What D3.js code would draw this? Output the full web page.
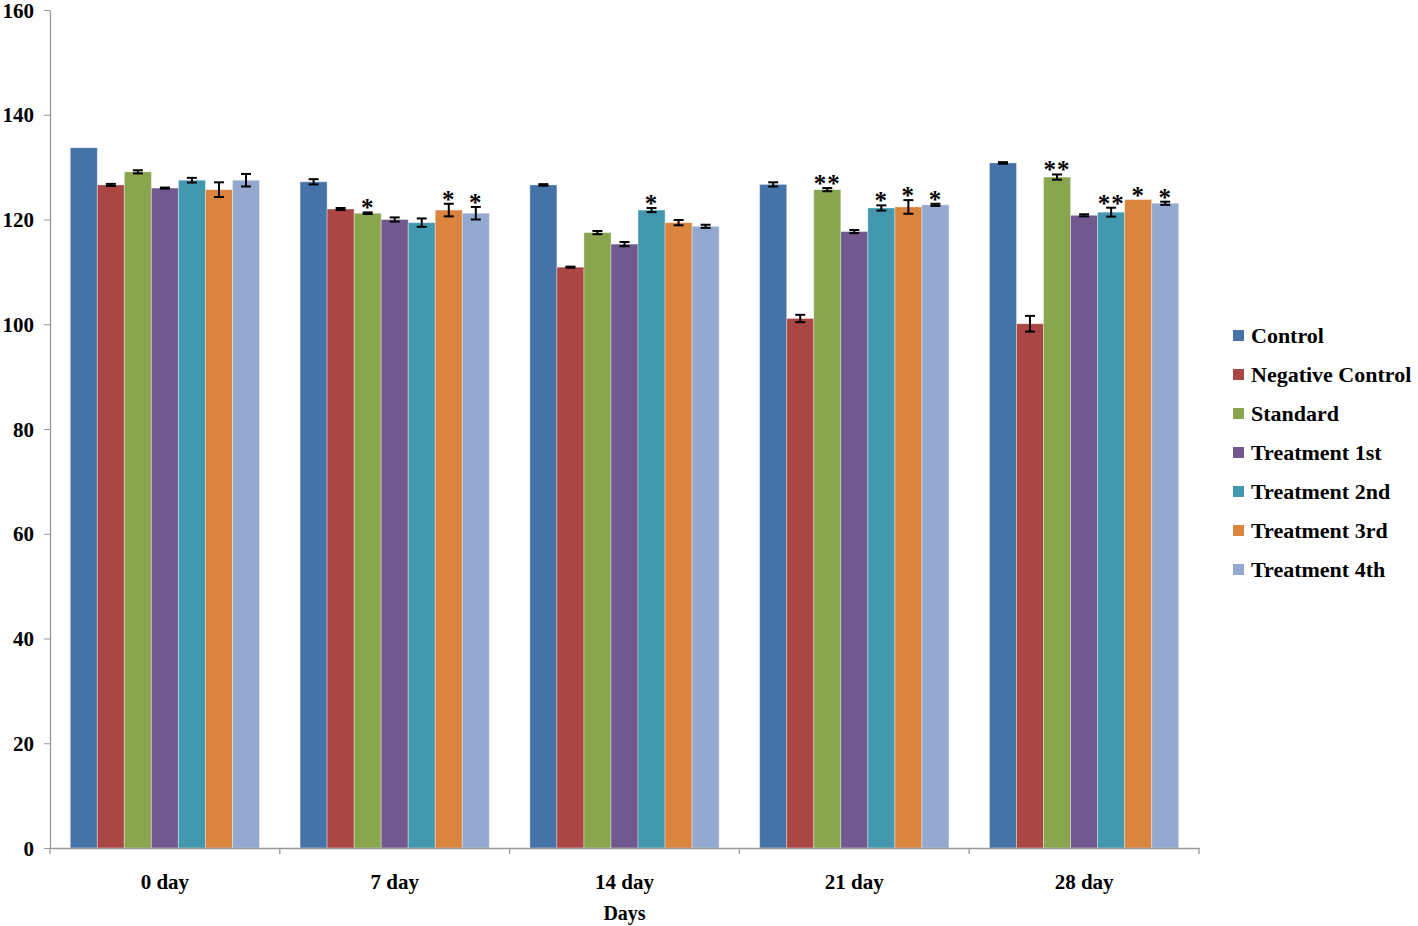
<!DOCTYPE html>
<html>
<head>
<meta charset="utf-8">
<script src="https://cdn.jsdelivr.net/npm/d3@7/dist/d3.min.js"></script>
<style>
  body { margin: 0; background: #fff; }
  svg text { font-family: "Liberation Serif", "Times New Roman", serif; font-weight: bold; fill: #000; }
</style>
</head>
<body>
<div id="chart"></div>
<script>
// groups on the x axis
const days = ['0 day', '7 day', '14 day', '21 day', '28 day'];
const seriesNames = ['Control', 'Negative Control', 'Standard', 'Treatment 1st', 'Treatment 2nd', 'Treatment 3rd', 'Treatment 4th'];
const seriesColors = ['#4572A7', '#AA4643', '#89A54E', '#71588F', '#4198AF', '#DB843D', '#93A9CF'];

// mean values, one row per series, one column per day
const control     = [133.7, 127.2, 126.6, 126.7, 130.8];
const negControl  = [126.6, 122.0, 110.9, 101.1, 100.1];
const standard    = [129.1, 121.2, 117.5, 125.7, 128.1];
const treatment1  = [126.0, 120.0, 115.3, 117.7, 120.8];
const treatment2  = [127.5, 119.4, 121.8, 122.2, 121.4];
const treatment3  = [125.7, 121.8, 119.4, 122.4, 123.8];
const treatment4  = [127.5, 121.2, 118.7, 122.8, 123.1];

// error bar half-widths
const controlErr    = [0, 0.5, 0.15, 0.4, 0.15];
const negControlErr = [0.2, 0.2, 0.1, 0.7, 1.5];
const standardErr   = [0.3, 0.15, 0.3, 0.3, 0.5];
const treatment1Err = [0.1, 0.4, 0.4, 0.3, 0.2];
const treatment2Err = [0.45, 0.8, 0.4, 0.5, 0.85];
const treatment3Err = [1.4, 1.2, 0.5, 1.3, 0];
const treatment4Err = [1.2, 1.2, 0.3, 0.2, 0.3];

// significance marks
const controlSig    = ['', '', '', '', ''];
const negControlSig = ['', '', '', '', ''];
const standardSig   = ['', '*', '', '**', '**'];
const treatment1Sig = ['', '', '', '', ''];
const treatment2Sig = ['', '', '*', '*', '**'];
const treatment3Sig = ['', '*', '', '*', '*'];
const treatment4Sig = ['', '*', '', '*', '*'];

const yTicks = [0, 20, 40, 60, 80, 100, 120, 140, 160];

const values = [control, negControl, standard, treatment1, treatment2, treatment3, treatment4];
const errors = [controlErr, negControlErr, standardErr, treatment1Err, treatment2Err, treatment3Err, treatment4Err];
const sigs = [controlSig, negControlSig, standardSig, treatment1Sig, treatment2Sig, treatment3Sig, treatment4Sig];

const width = 1418, height = 926;
const margin = { left: 50, top: 10, right: 219, bottom: 78 };

const svg = d3.select('#chart').append('svg')
  .attr('width', width)
  .attr('height', height);

const x0 = d3.scaleBand()
  .domain(days)
  .range([margin.left, width - margin.right])
  .paddingInner(0)
  .paddingOuter(0);

const x1 = d3.scaleBand()
  .domain(seriesNames)
  .range([0, x0.bandwidth()])
  .paddingInner(0)
  .paddingOuter(0.75);

const y = d3.scaleLinear()
  .domain([0, 160])
  .range([height - margin.bottom, margin.top]);

// rows for drawing
const rows = [];
days.forEach((day, di) => {
  seriesNames.forEach((name, si) => {
    rows.push({ day, name, si, v: values[si][di], e: errors[si][di], sig: sigs[si][di] });
  });
});

// bars
svg.append('g').selectAll('rect')
  .data(rows)
  .enter()
  .append('rect')
  .attr('x', d => x0(d.day) + x1(d.name))
  .attr('y', d => y(d.v))
  .attr('width', x1.bandwidth())
  .attr('height', d => y(0) - y(d.v))
  .attr('fill', d => seriesColors[d.si])
  .attr('stroke', 'rgba(255,255,255,0.35)')
  .attr('stroke-width', 1);

// error bars
const errG = svg.append('g').attr('stroke', '#000').attr('stroke-width', 2);
rows.filter(d => d.e > 0).forEach(d => {
  const cx = x0(d.day) + x1(d.name) + x1.bandwidth() / 2;
  const y1 = y(d.v + d.e), y2 = y(d.v - d.e);
  errG.append('line').attr('x1', cx).attr('x2', cx).attr('y1', y1).attr('y2', y2);
  errG.append('line').attr('x1', cx - 5).attr('x2', cx + 5).attr('y1', y1).attr('y2', y1);
  errG.append('line').attr('x1', cx - 5).attr('x2', cx + 5).attr('y1', y2).attr('y2', y2);
});

// significance stars
svg.append('g').selectAll('text')
  .data(rows.filter(d => d.sig))
  .enter()
  .append('text')
  .attr('x', d => x0(d.day) + x1(d.name) + x1.bandwidth() / 2)
  .attr('y', d => y(d.v + d.e) + 4)
  .attr('text-anchor', 'middle')
  .style('font-size', '25px')
  .style('letter-spacing', '1px')
  .text(d => d.sig);

// y axis
const yAxis = svg.append('g')
  .attr('transform', `translate(${margin.left},0)`)
  .call(d3.axisLeft(y).tickValues(yTicks).tickSize(6).tickSizeOuter(0));
yAxis.select('.domain').attr('stroke', '#999').attr('stroke-width', 1.3);
yAxis.selectAll('.tick line').attr('stroke', '#999');
yAxis.selectAll('.tick text')
  .attr('x', -16)
  .attr('dy', '0.34em')
  .style('font-size', '21px');

// x axis
const xAxis = svg.append('g')
  .attr('transform', `translate(0,${y(0)})`)
  .call(d3.axisBottom(x0).tickSize(0).tickSizeOuter(0));
xAxis.select('.domain').attr('stroke', '#999').attr('stroke-width', 1.3);
xAxis.selectAll('.tick text')
  .attr('y', 26)
  .style('font-size', '21px');

// group separator ticks
const boundaries = days.map(d => x0(d)).concat([x0(days[days.length - 1]) + x0.bandwidth()]);
svg.append('g').selectAll('line')
  .data(boundaries)
  .enter()
  .append('line')
  .attr('x1', d => d).attr('x2', d => d)
  .attr('y1', y(0)).attr('y2', y(0) + 6)
  .attr('stroke', '#999').attr('stroke-width', 1.3);

// axis title
svg.append('text')
  .attr('x', (margin.left + width - margin.right) / 2)
  .attr('y', 920)
  .attr('text-anchor', 'middle')
  .style('font-size', '20px')
  .text('Days');

// legend
const legend = svg.append('g').attr('transform', 'translate(1233, 335)');
seriesNames.forEach((name, i) => {
  const row = legend.append('g').attr('transform', `translate(0, ${i * 39})`);
  row.append('rect')
    .attr('x', 0).attr('y', -5)
    .attr('width', 11).attr('height', 11)
    .attr('fill', seriesColors[i]);
  row.append('text')
    .attr('x', 18)
    .attr('y', 8)
    .style('font-size', '22px')
    .text(name);
});
</script>
</body>
</html>
